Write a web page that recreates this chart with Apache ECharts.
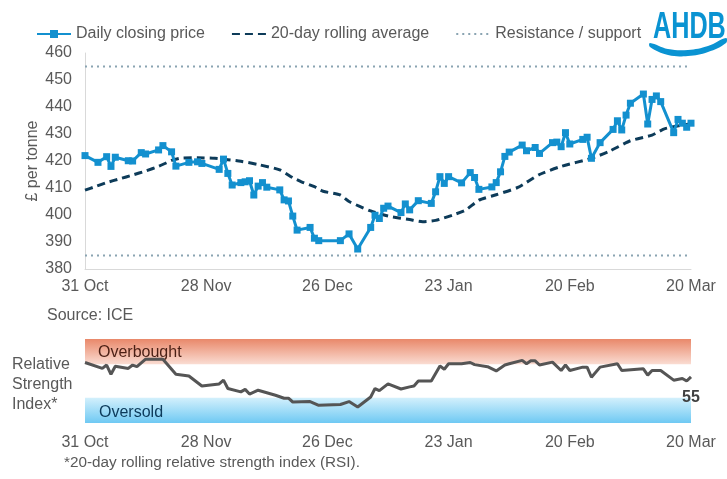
<!DOCTYPE html>
<html><head><meta charset="utf-8">
<script src="https://cdn.jsdelivr.net/npm/echarts/dist/echarts.min.js"></script>
<style>html,body{margin:0;padding:0;background:#fff}#c{width:727px;height:479px}</style>
</head><body><div id="c"></div>
<script>
// x positions are day offsets from 31 Oct
const tickLabels = ['31 Oct','28 Nov','26 Dec','23 Jan','20 Feb','20 Mar'];
const priceDays = [0,3,5,6,7,10,11,13,14,17,18,20,21,24,26,27,31,32,33,34,36,37,38,39,40,41,42,45,46,47,48,49,52,53,54,59,61,63,66,67,68,69,70,73,74,75,77,80,81,82,83,84,87,89,90,91,94,95,96,97,98,101,102,104,105,108,109,110,111,112,115,116,117,119,122,123,124,125,126,129,130,131,132,133,136,137,138,139,140];
const price = [422,419.5,421.6,418,421.4,420.1,420,423.1,422.6,424.1,425.7,423.4,418.1,419.5,419.7,419.1,416.9,420.7,415.4,411.1,412,412.3,412.7,407.4,410.7,412,410.3,409.3,405.6,405.2,399.6,394.4,395.4,391.4,390.5,390.5,393,387.4,395.4,399.9,398.7,402.5,403.3,400.9,404.1,401.9,405.3,404.3,408.6,414.2,411.7,414.2,411.9,415.7,413.9,409.5,410.4,412,416,421.7,423.3,425.9,423.8,425,422.8,426.8,427,425.3,430.5,426.3,428,428.8,421,426.8,431.7,434.9,431.5,437,441.4,444.8,433.7,442.8,444.1,442,430.5,435.4,434,432.5,434];
const avgDays = [0,2,5,8,11,14,17,20,22,26,30,33,36,40,45,48,50,53,55,59,61,66,70,75,78,81,85,88,91,95,100,105,110,117,121,126,131,134,140];
const avg = [409.2,410.3,412,413.4,414.8,416.3,418,420.2,421,421.2,421,420.5,419.9,418.7,416.7,413.8,412.3,410.5,408.8,407.4,405,401.5,399.6,398.3,397.5,398,400,401.9,405.5,407.5,410.2,415,418,421,423.5,427.5,429.6,432,433.8];
const rsiDays = [0,4,5,6,7,10,11,12,14,18,19,21,24,27,31,32,33,36,37,38,40,44,46,47,48,52,54,59,61,63,66,67,68,70,73,75,76,77,80,82,83,84,87,89,90,93,95,97,98,101,102,103,104,105,108,110,111,112,115,116,117,119,123,124,129,130,131,133,136,138,139,140];
const rsi = [72,65,69,58,67.5,65,69,67,76,76,70,58,56,44,46.5,51,41,37,40,34.5,39,33,29.5,29.5,25,25.5,21,22,25.5,19,31,41,38.5,46.5,40.5,43,44,50,50,68,64,70.5,70.5,72,69.5,67,62,69,70.5,74.5,70.5,74,74,69,72.5,62.5,69,62.5,66.5,66.5,54.5,66.5,70.5,62.5,64.5,57,62.5,62.5,51,53,50,55];
const levels = [455, 385];
const bandNames = ['Overbought', 'Oversold'];
const bandRanges = [[70, 100], [0, 30]];
const seriesNames = ['Daily closing price', '20-day rolling average', 'Resistance / support'];

const FONT = "'Liberation Sans', Arial, sans-serif";
const TXT = '#595959';
const chart = echarts.init(document.getElementById('c'), null, {renderer: 'canvas'});

const xAxisBase = (grid, showLine, margin) => ({
  gridIndex: grid, type: 'value', min: 0, max: 140, interval: 28,
  axisLine: {show: showLine, lineStyle: {color: '#d9d9d9', width: 1}},
  axisTick: {show: false}, splitLine: {show: false},
  axisLabel: {formatter: v => tickLabels[Math.round(v / 28)], color: TXT, fontSize: 16, fontFamily: FONT, margin: margin, showMinLabel: true, showMaxLabel: true}
});

const bandGrad = (top, bottom) => new echarts.graphic.LinearGradient(0, 0, 0, 1, [{offset: 0, color: top}, {offset: 1, color: bottom}]);

const series = [
  {
    name: seriesNames[0], type: 'line', xAxisIndex: 0, yAxisIndex: 0,
    data: priceDays.map((d, i) => [d, price[i]]),
    symbol: 'rect', symbolSize: 7, z: 5,
    lineStyle: {color: '#1390cf', width: 3}, itemStyle: {color: '#1390cf'}
  },
  {
    name: seriesNames[1], type: 'line', xAxisIndex: 0, yAxisIndex: 0,
    data: avgDays.map((d, i) => [d, avg[i]]), smooth: 0.2,
    symbol: 'none', z: 4,
    lineStyle: {color: '#0d3b59', width: 3, type: [8, 5]}, itemStyle: {color: '#0d3b59'}
  }
];
levels.forEach(l => series.push({
  name: seriesNames[2], type: 'line', xAxisIndex: 0, yAxisIndex: 0,
  data: [[0, l], [140, l]], symbol: 'none', z: 3,
  lineStyle: {color: '#8aa4b2', width: 2, type: [2, 4]}, itemStyle: {color: '#8aa4b2'}
}));
series.push({
  name: 'RSI', type: 'line', xAxisIndex: 1, yAxisIndex: 1,
  data: rsiDays.map((d, i) => [d, rsi[i]]), symbol: 'none', z: 5,
  lineStyle: {color: '#555555', width: 3}, itemStyle: {color: '#555555'},
  endLabel: {show: true, formatter: p => String(Math.round(p.value[1])), color: '#404040', fontWeight: 'bold', fontSize: 16, fontFamily: FONT, offset: [-17, 21]},
  markArea: {
    silent: true,
    data: [
      [{name: bandNames[0], yAxis: bandRanges[0][0], itemStyle: {color: bandGrad('#e9886a', '#fadcd2')}, label: {color: '#4a1f14', offset: [8, 1]}}, {yAxis: bandRanges[0][1]}],
      [{name: bandNames[1], yAxis: bandRanges[1][1], itemStyle: {color: bandGrad('#d3f0fc', '#6fc9f3')}, label: {color: '#0c3a5a', offset: [9, 2]}}, {yAxis: bandRanges[1][0]}]
    ],
    label: {show: true, position: 'insideLeft', fontSize: 16, fontFamily: FONT}
  }
});

const hidden = {color: 'rgba(0,0,0,0)', borderWidth: 0, opacity: 0};

chart.setOption({
  animation: false,
  backgroundColor: '#fff',
  textStyle: {fontFamily: FONT},
  legend: {
    data: [
      {name: seriesNames[0]},
      {name: seriesNames[1], itemStyle: hidden},
      {name: seriesNames[2], itemStyle: hidden}
    ],
    top: 26, left: 36, padding: 0, itemWidth: 34, itemHeight: 10, itemGap: 26,
    textStyle: {fontSize: 16, color: TXT, fontFamily: FONT}
  },
  grid: [
    {left: 85, right: 36, top: 53, height: 216},
    {left: 85, right: 36, top: 339, height: 84}
  ],
  xAxis: [xAxisBase(0, true, 10), xAxisBase(1, false, 12)],
  yAxis: [
    {gridIndex: 0, type: 'value', min: 380, max: 460, interval: 10,
     axisLine: {show: true, lineStyle: {color: '#d9d9d9'}}, axisTick: {show: false}, splitLine: {show: false},
     axisLabel: {color: TXT, fontSize: 16, fontFamily: FONT, margin: 13},
     name: '£ per tonne', nameLocation: 'middle', nameGap: 44, nameMoveOverlap: false,
     nameTextStyle: {color: TXT, fontSize: 16, fontFamily: FONT}},
    {gridIndex: 1, type: 'value', min: 0, max: 100, show: false}
  ],
  series: series,
  graphic: [
    {type: 'text', x: 47, y: 316, style: {text: 'Source: ICE', fill: TXT, fontSize: 16, fontFamily: FONT, textVerticalAlign: 'middle'}},
    {type: 'text', x: 12, y: 385, style: {text: 'Relative\nStrength\nIndex*', fill: TXT, fontSize: 16, lineHeight: 20, fontFamily: FONT, textVerticalAlign: 'middle'}},
    {type: 'text', x: 64, y: 463, style: {text: '*20-day rolling relative strength index (RSI).', fill: TXT, fontSize: 15.3, fontFamily: FONT, textVerticalAlign: 'middle'}},
    {type: 'text', x: 653, y: 10, scaleX: 0.7, style: {text: 'AHDB', fill: '#0a93d2', fontSize: 36, fontWeight: 'bold', fontFamily: FONT}},
    {type: 'polygon', shape: {smooth: 0.4, points: [[650,43],[668,49],[688,50],[708,46],[726,38],[726,43],[708,52],[688,56],[668,55],[650,47]]}, style: {fill: '#0a93d2'}}
  ]
});
</script></body></html>
